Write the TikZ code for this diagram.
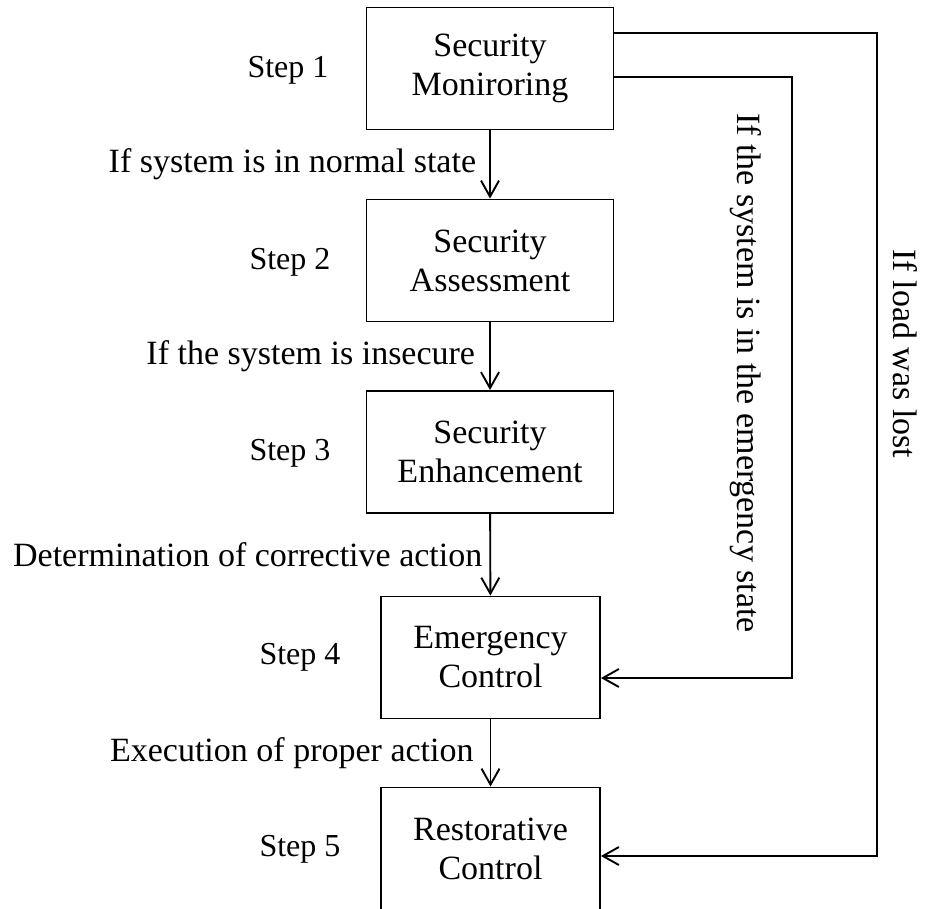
\documentclass[tikz,border=0pt]{standalone}
\usepackage{fontspec}
\setmainfont{Liberation Serif}
\usetikzlibrary{arrows.meta}
\begin{document}
\begin{tikzpicture}[x=1pt,y=-1pt,
  every node/.style={font=\fontsize{34}{39}\selectfont, inner sep=0pt},
  stage/.style={draw, line width=1.9pt, align=center, minimum height=122pt},
  wide/.style={stage, minimum width=247pt},
  narrow/.style={stage, minimum width=219pt},
  steplabel/.style={anchor=center, font=\fontsize{32}{38}\selectfont},
  edgelabel/.style={anchor=east},
  flow/.style={line width=1.9pt, -{Straight Barb[length=16pt,width=18pt,line width=1.9pt]}}]
\useasboundingbox (0,0) rectangle (925,908);

% process boxes
\node[wide]   (b1) at (490,68.5)  {Security\\Moniroring};
\node[wide]   (b2) at (490,260.5) {Security\\Assessment};
\node[wide]   (b3) at (490,452)   {Security\\Enhancement};
\node[narrow] (b4) at (490.5,657.5) {Emergency\\Control};
\node[narrow] (b5) at (490.5,848.5) {Restorative\\Control};

% step labels
\node[steplabel] (s1) at (288,70)  {Step 1};
\node[steplabel] (s2) at (290,262) {Step 2};
\node[steplabel] (s3) at (290,453) {Step 3};
\node[steplabel] (s4) at (300,657) {Step 4};
\node[steplabel] (s5) at (300,849) {Step 5};

% main chain
\draw[flow] (b1) -- (b2) node[midway, edgelabel, xshift=-13pt] (l1) {If system is in normal state};
\draw[flow] (b2) -- (b3) node[midway, edgelabel, xshift=-14pt] (l2) {If the system is insecure};
\draw[flow] (b3) -- (b4) node[midway, edgelabel, xshift=-7pt] (l3) {Determination of corrective action};
\draw[flow] (b4) -- (b5) node[midway, edgelabel, xshift=-16pt] (l4) {Execution of proper action};

% feedback paths
\coordinate (emgOut)  at (613,77);
\coordinate (emgTurn) at (792,678);
\coordinate (lossOut)  at (613,33);
\coordinate (lossTurn) at (877,856);

\draw[flow] (emgOut) -| (emgTurn) -- (b4.east |- emgTurn);
\draw[flow] (lossOut) -| (lossTurn) -- (b5.east |- lossTurn);

\node[rotate=-90] (le) at (746,373) {If the system is in the emergency state};
\node[rotate=-90] (ll) at (905,354) {If load was lost};
\end{tikzpicture}
\end{document}
